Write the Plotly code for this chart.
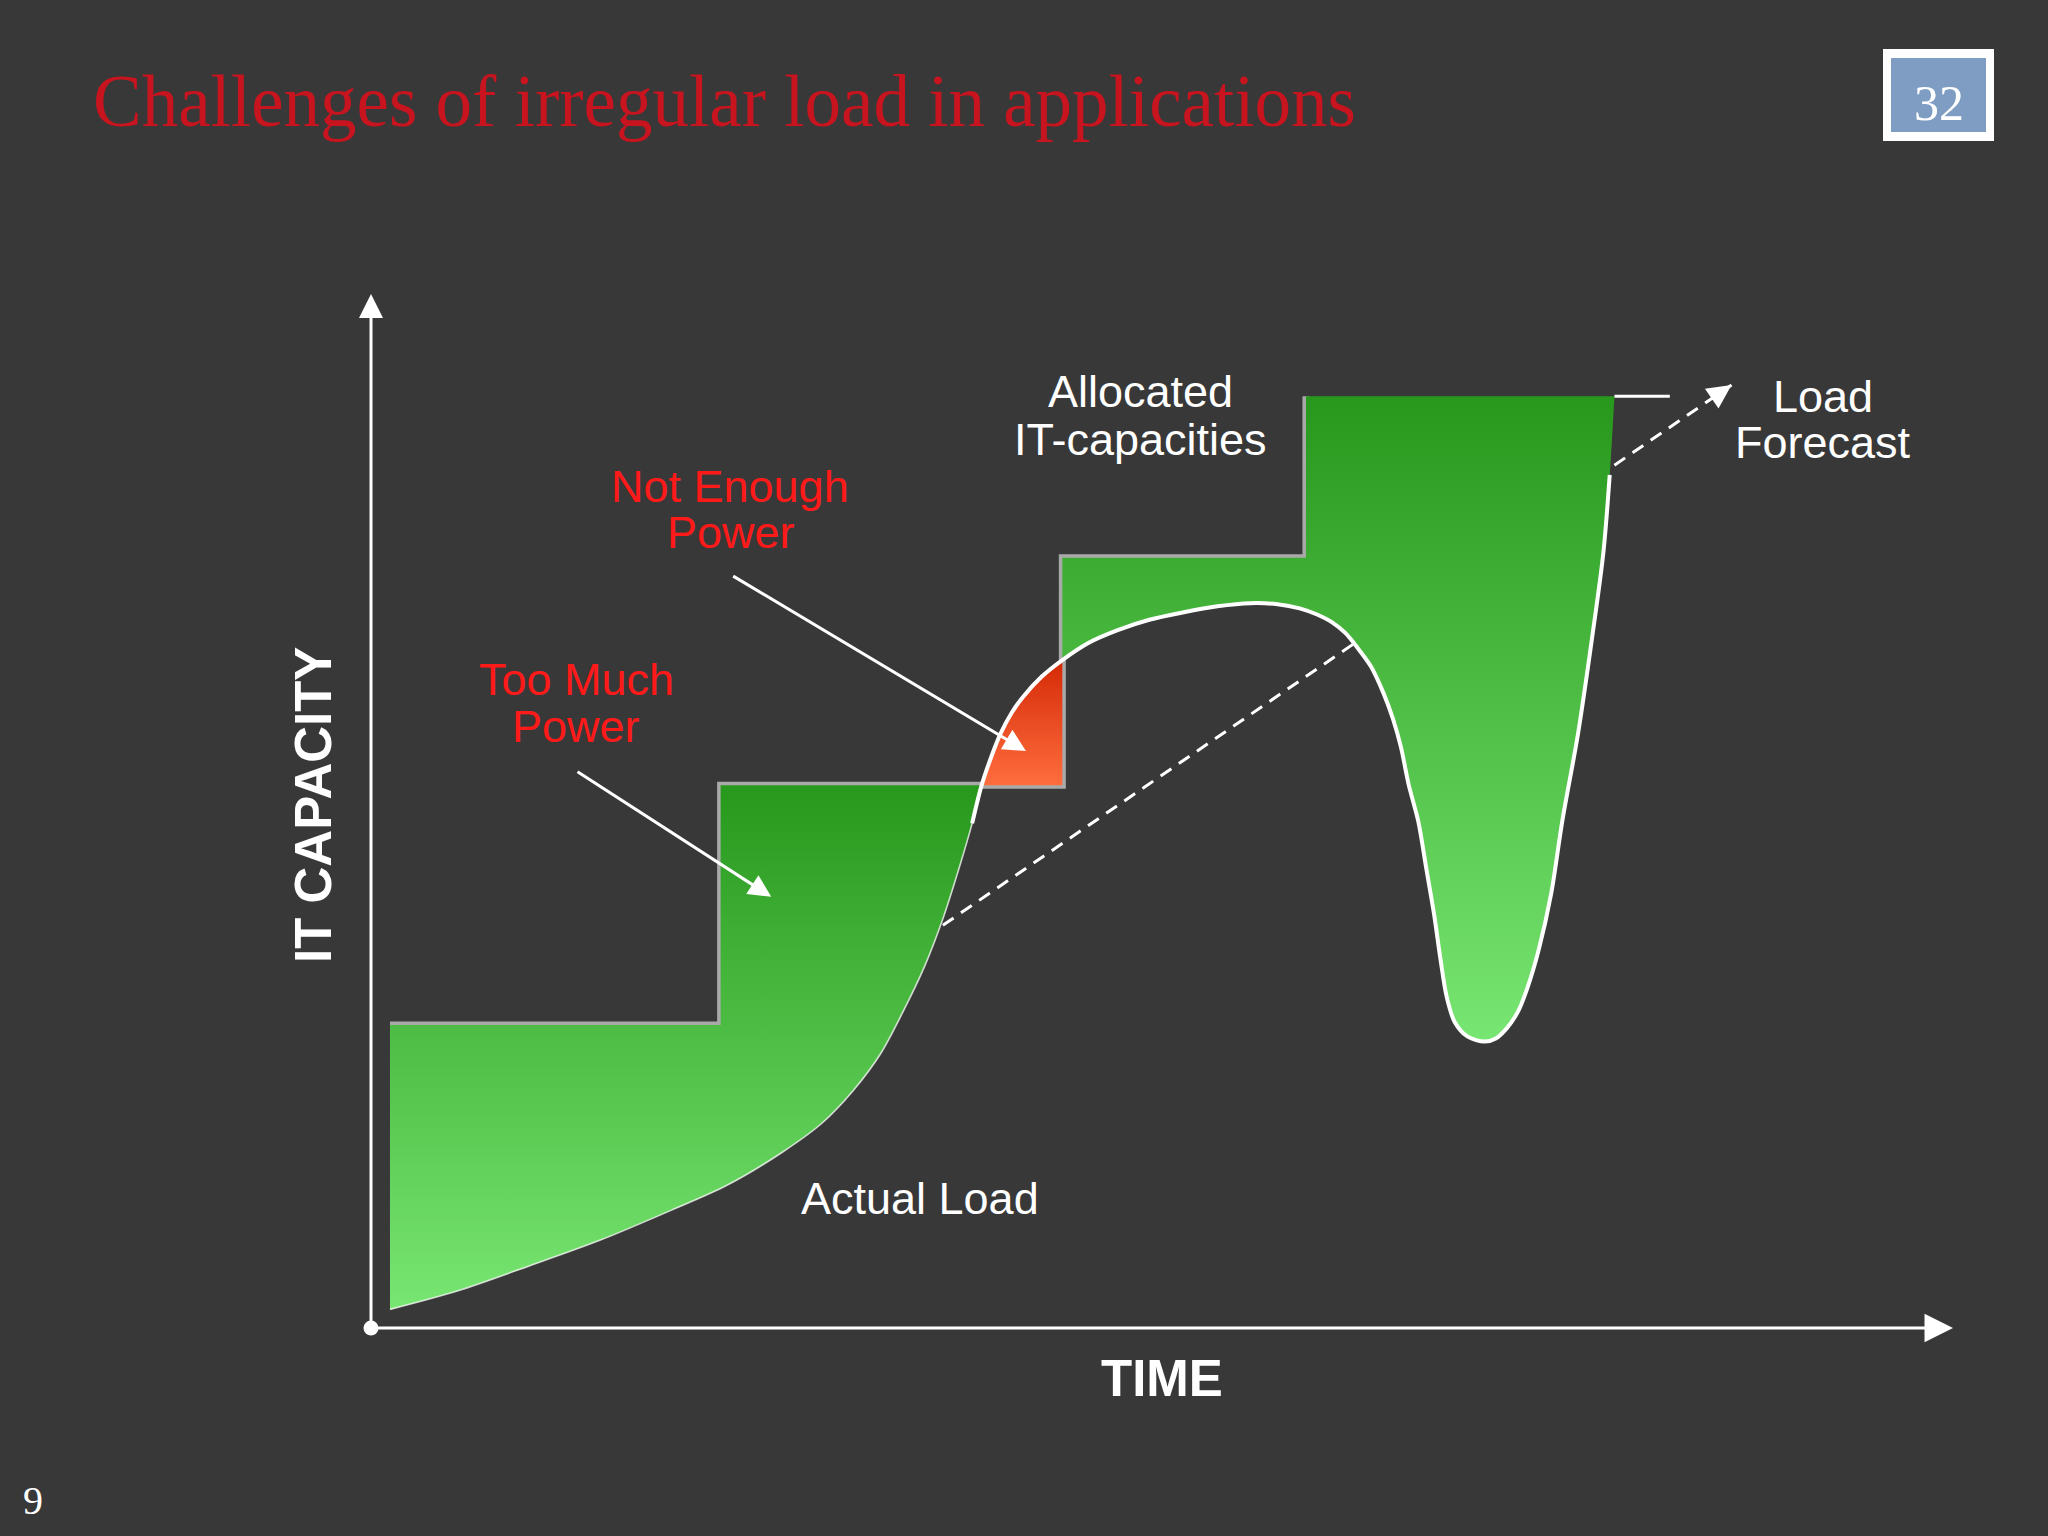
import numpy as np
import plotly.graph_objects as go

# ---------------- data (TIME units 0-100, IT CAPACITY units 0-100) ----------------
step_time = [1.2, 22.1, 43.7, 59.1, 78.6]          # boundaries of the allocation periods
step_capacity = [29.3, 52.5, 74.5, 90.1]           # allocated IT-capacity per period
extension_time = [78.6, 82.1]                       # short continuation of the last level

load_time = [1.2, 5.5, 10.0, 14.5, 19.0, 22.5, 26.0, 28.5, 30.5, 32.2, 33.6, 35.0,
             36.2, 37.2, 38.0, 38.6, 39.2, 39.8, 40.5, 41.2, 42.4, 43.7, 45.4, 47.2,
             49.2, 51.3, 53.5, 55.6, 57.3, 58.7, 59.8, 60.8, 61.6, 62.3, 63.2, 64.0,
             64.6, 65.1, 65.6, 66.2, 66.7, 67.2, 67.6, 68.0, 68.5, 69.3, 70.4, 71.1,
             71.8, 72.5, 73.1, 73.8, 74.6, 75.3, 76.3, 77.2, 77.9, 78.3, 78.6]
load_value = [1.8, 3.6, 6.0, 8.5, 11.4, 13.8, 17.0, 19.8, 23.0, 26.5, 30.5, 35.0,
              39.8, 44.6, 48.8, 52.5, 55.2, 57.5, 59.5, 61.0, 63.0, 64.6, 66.3, 67.5,
              68.5, 69.2, 69.8, 70.1, 70.0, 69.6, 69.0, 68.2, 67.2, 65.9, 64.0, 61.4,
              58.9, 56.2, 52.5, 49.0, 44.5, 40.0, 35.7, 32.0, 29.6, 28.2, 27.7, 28.0,
              29.0, 30.6, 32.9, 36.5, 42.0, 49.0, 57.5, 66.9, 75.0, 82.5, 90.1]

forecast_time = [35.0, 86.0]
forecast_value = [37.75, 91.2]

# ---------------- geometry of the page ----------------
W, H = 2048, 1536
X0, Y0 = 371, 1328            # pixel position of the origin
PX_T, PX_C = 15.82, 10.34     # pixels per unit
xr = [-X0 / PX_T, (W - X0) / PX_T]
yr = [-(H - Y0) / PX_C, Y0 / PX_C]


def px(x):
    return x / W


def py(y):
    return 1 - y / H


lt = np.array(load_time)
lv = np.array(load_value)
i_cross = int(np.argmax(lv >= step_capacity[1]))
i_step = int(np.argmax(lt >= step_time[2]))

GREEN_DARK = "#27981c"
GREEN_LIGHT = "#78e672"
SMOOTH = 0.9

fig = go.Figure()

# dashed forecast trend (drawn underneath the areas)
fig.add_trace(go.Scatter(x=forecast_time, y=forecast_value, mode="lines",
                         line=dict(color="white", width=3, dash="13px,9px")))

# bevel outline of the allocated capacity steps
out_x = [step_time[0], step_time[1], step_time[1], step_time[2], step_time[2], step_time[3], step_time[3]]
out_y = [step_capacity[0], step_capacity[0], step_capacity[1], step_capacity[1],
         step_capacity[2], step_capacity[2], step_capacity[3]]
fig.add_trace(go.Scatter(x=out_x, y=out_y, mode="lines",
                         line=dict(color="#a9a9a9", width=7)))


def band(load_x, load_y, edge_x, edge_y, c_lo, c_hi, lo_col, hi_col):
    """Area between a piece of the load curve (smoothed) and an edge path."""
    fig.add_trace(go.Scatter(x=load_x, y=load_y, mode="lines",
                             line=dict(width=0, shape="spline", smoothing=SMOOTH, color="rgba(0,0,0,0)")))
    fig.add_trace(go.Scatter(x=edge_x, y=edge_y, mode="lines", fill="tonexty",
                             line=dict(width=0, color="rgba(0,0,0,0)"),
                             fillgradient=dict(type="vertical",
                                               colorscale=[[0, lo_col], [1, hi_col]],
                                               start=c_lo, stop=c_hi)))


# left over-provisioned area
lx, ly = lt[:i_cross + 1], lv[:i_cross + 1]
ex = [step_time[0], step_time[0], step_time[1], step_time[1], lt[i_cross]]
ey = [lv[0], step_capacity[0], step_capacity[0], step_capacity[1], step_capacity[1]]
band(lx, ly, ex, ey, lv[0], step_capacity[1], GREEN_LIGHT, GREEN_DARK)

# right over-provisioned area
rx, ry = lt[i_step:], lv[i_step:]
ex = [step_time[2], step_time[2], step_time[3], step_time[3], step_time[4]]
ey = [lv[i_step], step_capacity[2], step_capacity[2], step_capacity[3], step_capacity[3]]
band(rx, ry, ex, ey, float(ry.min()), step_capacity[3], GREEN_LIGHT, GREEN_DARK)

# under-provisioned area
nx, ny = lt[i_cross:i_step + 1], lv[i_cross:i_step + 1]
ex = [lt[i_cross], step_time[2], step_time[2]]
ey = [step_capacity[1], step_capacity[1], lv[i_step]]
band(nx, ny, ex, ey, step_capacity[1], lv[i_step], "#ff6d3e", "#d42a06")

# actual load curve
fig.add_trace(go.Scatter(x=lt[:i_cross + 1], y=lv[:i_cross + 1], mode="lines",
                         line=dict(color="rgba(255,255,255,0.75)", width=1.6,
                                   shape="spline", smoothing=SMOOTH)))
fig.add_trace(go.Scatter(x=lt[i_cross - 1:-1], y=lv[i_cross - 1:-1], mode="lines",
                         line=dict(color="white", width=4, shape="spline", smoothing=SMOOTH)))

# continuation of the last capacity level
fig.add_trace(go.Scatter(x=extension_time, y=[step_capacity[3]] * 2, mode="lines",
                         line=dict(color="white", width=3)))

# origin dot
fig.add_trace(go.Scatter(x=[0], y=[0], mode="markers",
                         marker=dict(color="white", size=15, line=dict(width=0))))

SANS = "Liberation Sans, Arial, sans-serif"
SERIF = "Liberation Serif, Times New Roman, serif"


def label(text, X, Y, size, color="white", family=SANS, **kw):
    d = dict(text=text, x=px(X), y=py(Y), xref="paper", yref="paper", showarrow=False,
             font=dict(size=size, color=color, family=family), xanchor="center", yanchor="middle")
    d.update(kw)
    return d


def arrow(x, y, ax, ay, width=3, size=1.6):
    return dict(x=x, y=y, ax=ax, ay=ay, xref="x", yref="y", axref="x", ayref="y",
                text="", showarrow=True, arrowhead=2, arrowsize=size, arrowwidth=width,
                arrowcolor="white", standoff=0, startstandoff=0)


annotations = [
    # axes
    arrow(100, 0, 0, 0, width=3, size=1.9),
    arrow(0, 100, 0, 0, width=3, size=1.6),
    # pointers
    arrow(25.3, 41.7, 12.96, 53.9, width=3, size=1.5),
    arrow(41.4, 55.8, 22.8, 72.8, width=3, size=1.5),
    # forecast head
    arrow(forecast_time[1], forecast_value[1], forecast_time[1] - 1.2,
          forecast_value[1] - 1.2 * (forecast_value[1] - forecast_value[0]) / (forecast_time[1] - forecast_time[0]),
          width=3, size=1.6),
    # title
    label("Challenges of irregular load in applications", 91, 101, 73, "#c8141e", SERIF,
          xanchor="left"),
    label("32", 1939, 103, 50, "white", SERIF),
    label("9", 33, 1500, 40, "white", SERIF),
    # axis titles
    label("<b>IT CAPACITY</b>", 313, 805, 51, textangle=-90),
    label("<b>TIME</b>", 1162, 1378, 51),
    # diagram labels
    label("Allocated", 1140, 392, 45),
    label("IT-capacities", 1140, 440, 45),
    label("Load", 1823, 396, 45),
    label("Forecast", 1823, 443, 45),
    label("Not Enough", 730, 486, 45, "#ff1a1a"),
    label("Power", 731, 533, 45, "#ff1a1a"),
    label("Too Much", 576, 680, 45, "#ff1a1a"),
    label("Power", 576, 726, 45, "#ff1a1a"),
    label("Actual Load", 920, 1198, 45),
]

shapes = [
    dict(type="rect", xref="paper", yref="paper", x0=px(1883), x1=px(1994), y0=py(141), y1=py(49),
         fillcolor="white", line=dict(width=0), layer="below"),
    dict(type="rect", xref="paper", yref="paper", x0=px(1891), x1=px(1986), y0=py(132), y1=py(58),
         fillcolor="#7f9cc3", line=dict(width=0), layer="below"),
]

fig.update_layout(
    width=W, height=H, autosize=False,
    margin=dict(l=0, r=0, t=0, b=0, pad=0),
    paper_bgcolor="#383838", plot_bgcolor="#383838",
    showlegend=False, hovermode=False,
    xaxis=dict(range=xr, visible=False, fixedrange=True),
    yaxis=dict(range=yr, visible=False, fixedrange=True),
    annotations=annotations, shapes=shapes,
)

fig.write_html("out.html", config={"displayModeBar": False, "staticPlot": True},
               post_script="document.body.style.margin='0';document.body.style.overflow='hidden';")
